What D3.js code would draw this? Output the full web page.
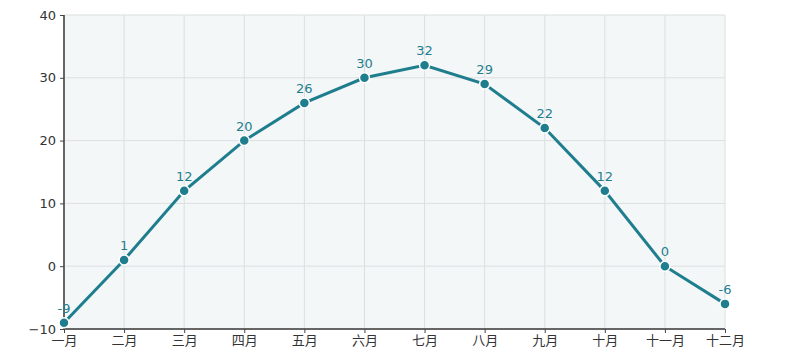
<!DOCTYPE html>
<html><head><meta charset="utf-8">
<script src="https://cdn.jsdelivr.net/npm/d3@7/dist/d3.min.js"></script>
<style>body{margin:0;background:#fff;font-family:"DejaVu Sans","Noto Sans CJK SC",sans-serif;}</style>
</head><body><svg id="c" width="789" height="356"></svg>
<script>
const months = ["一月","二月","三月","四月","五月","六月","七月","八月","九月","十月","十一月","十二月"];
const temps = [-9, 1, 12, 20, 26, 30, 32, 29, 22, 12, 0, -6];
const yTicks = [-10, 0, 10, 20, 30, 40];

const svg = d3.select("#c");
const L = 64, R = 725, T = 15, B = 329;
const x = d3.scalePoint().domain(months).range([L, R]);
const y = d3.scaleLinear().domain([-10, 40]).range([B, T]);

svg.append("rect").attr("x", L).attr("y", T).attr("width", R - L).attr("height", B - T).attr("fill", "#f4f7f8");
const g = svg.append("g");
g.selectAll(".hg").data(yTicks).join("line").attr("x1", L).attr("x2", R)
  .attr("y1", d => y(d)).attr("y2", d => y(d)).attr("stroke", "#dcdfe0").attr("stroke-width", 1);
g.selectAll(".vg").data(months).join("line").attr("y1", T).attr("y2", B)
  .attr("x1", d => x(d)).attr("x2", d => x(d)).attr("stroke", "#dcdfe0").attr("stroke-width", 1);

const ya = svg.append("g").attr("transform", `translate(${L},0)`)
  .call(d3.axisLeft(y).tickValues(yTicks).tickSize(4).tickPadding(4));
const xa = svg.append("g").attr("transform", `translate(0,${B})`)
  .call(d3.axisBottom(x).tickSize(4).tickPadding(3));
[ya, xa].forEach(a => {
  a.select(".domain").attr("stroke", "#666").attr("stroke-width", 2);
  a.selectAll(".tick line").attr("stroke", "#444");
  a.selectAll("text").attr("fill", "#333").style("font-size", "13px").style("font-family", '"DejaVu Sans","Noto Sans CJK SC",sans-serif');
});
ya.select(".domain").attr("d", `M0,${T}V${B}`);
xa.select(".domain").attr("d", `M${L},0H${R}`);

const col = "#1f7e8e";
const data = months.map((m, i) => ({m, v: temps[i]}));
svg.append("path").datum(data).attr("fill", "none").attr("stroke", col).attr("stroke-width", 3)
  .attr("d", d3.line().x(d => x(d.m)).y(d => y(d.v)));
svg.selectAll(".pt").data(data).join("circle").attr("cx", d => x(d.m)).attr("cy", d => y(d.v))
  .attr("r", 5).attr("fill", col).attr("stroke", "#fff").attr("stroke-width", 1.5);
svg.selectAll(".lb").data(data).join("text").attr("x", d => x(d.m)).attr("y", d => y(d.v) - 10)
  .attr("text-anchor", "middle").attr("fill", col).style("font-size", "13px").text(d => d.v);
</script></body></html>
